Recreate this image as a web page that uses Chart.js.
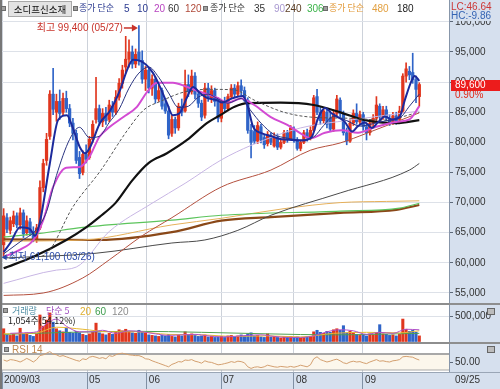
<!DOCTYPE html>
<html>
<head>
<meta charset="utf-8">
<script src="https://cdn.jsdelivr.net/npm/chart.js@4.4.0/dist/chart.umd.min.js"></script>
<style>
body{margin:0;background:#fff;}
#wrap{position:relative;width:500px;height:389px;overflow:hidden;background:#fff;font-family:"Liberation Sans","Noto Sans CJK KR",sans-serif;}
canvas{position:absolute;left:0;}
.side{position:absolute;left:449px;top:0;width:51px;height:389px;background:#d6e0ee;}
.strip{position:absolute;left:0;top:372px;width:500px;height:17px;background:#d6e0ee;}
.hl{position:absolute;left:0;width:500px;background:#8e8e8e;}
.t{position:absolute;white-space:nowrap;font-size:10px;line-height:12px;}
.k{font-family:"Noto Sans CJK KR",sans-serif;font-size:9px;}
.sq{position:absolute;width:3px;height:3px;background:#a0a0a0;border:1px solid #6c6c6c;}
.name{position:absolute;left:8px;top:1px;width:62px;height:14px;background:#e3e3e3;border:1px solid #a9a9a9;font:9.5px/14px "Noto Sans CJK KR",sans-serif;color:#111;text-align:center;}
.ico{position:absolute;left:487px;width:6px;height:5px;background:#bcbcbc;border:1px solid #666;}
</style>
</head>
<body>
<div id="wrap">
  <div class="side"></div>
  <div class="strip"></div>
  <canvas id="price" width="500" height="303" style="top:0"></canvas>
  <canvas id="volume" width="500" height="37" style="top:305px"></canvas>
  <canvas id="rsi" width="500" height="45" style="top:344px"></canvas>
  <div class="hl" style="top:303px;height:2px"></div>
  <div class="hl" style="top:342px;height:2px"></div>
  <div class="hl" style="top:372px;height:1px;background:#9aa6b6"></div>
  <div style="position:absolute;left:0;top:0;width:2px;height:389px;background:#777"></div>

  <div class="sq" style="left:1px;top:6px"></div>
  <div class="name">소디프신소재</div>
  <div class="sq" style="left:73px;top:6px"></div>
  <span class="t k" style="left:79px;top:2px;color:#2b3a90">종가 단순</span>
  <span class="t" style="left:124px;top:3px;color:#2b3a90">5</span>
  <span class="t" style="left:137px;top:3px;color:#2b3a90">10</span>
  <span class="t" style="left:154px;top:3px;color:#b845c0">20</span>
  <span class="t" style="left:168px;top:3px;color:#333">60</span>
  <span class="t" style="left:185px;top:3px;color:#b04a3a">120</span>
  <div class="sq" style="left:203px;top:6px"></div>
  <span class="t k" style="left:210px;top:2px;color:#333">종가 단순</span>
  <span class="t" style="left:254px;top:3px;color:#333">35</span>
  <span class="t" style="left:274px;top:3px;color:#a898d0">90</span>
  <span class="t" style="left:285px;top:3px;color:#5a3c22">240</span>
  <span class="t" style="left:307px;top:3px;color:#3cb44a">306</span>
  <div class="sq" style="left:323px;top:6px"></div>
  <span class="t k" style="left:329px;top:2px;color:#e29a3a">종가 단순</span>
  <span class="t" style="left:372px;top:3px;color:#e2a040">480</span>
  <span class="t" style="left:397px;top:3px;color:#222">180</span>

  <span class="t" style="left:451px;top:1px;color:#cc3838">LC:46.64</span>
  <span class="t" style="left:450px;top:11px;width:50px;height:10px;line-height:10px;padding-left:1px;background:#d6e0ee;color:#3464b4">HC:-9.86</span>

  <div class="sq" style="left:3px;top:308px"></div>
  <span class="t k" style="left:12px;top:305px;color:#4f8ea4">거래량</span>
  <span class="t k" style="left:46px;top:305px;color:#a050c0">단순 5</span>
  <span class="t" style="left:80px;top:306px;color:#e0b030">20</span>
  <span class="t" style="left:95px;top:306px;color:#3c9c4c">60</span>
  <span class="t" style="left:112px;top:306px;color:#8c8c8c">120</span>
  <span class="t k" style="left:8px;top:315px;color:#222">1,054주(54.12%)</span>
  <div class="ico" style="top:308px"></div>

  <div class="sq" style="left:4px;top:347px"></div>
  <span class="t" style="left:12px;top:344px;color:#c08850">RSI 14</span>
  <div class="ico" style="top:346px"></div>

  <span class="t" style="left:455px;top:374px;color:#333">09/25</span>
</div>

<script>
// daily candles, one per trading day from 03/26 to 09/25
const opens = [63000,67500,65400,66500,67800,66300,68300,65000,66800,65200,
  64000,65800,72500,77000,81000,88000,85000,86800,85000,87300,
  85600,83200,81500,77500,75000,78000,77500,80500,83800,85600,
  83400,84800,83800,86000,85000,87500,89800,92500,93800,95000,
  93000,95000,93600,90500,92000,89000,90500,87200,88600,86400,
  85200,81500,83800,82400,86000,85200,89600,88400,91000,88000,
  86500,84500,89000,87400,88600,87000,84000,86500,85600,87600,
  89000,88000,89400,88600,87000,82000,81800,80200,82600,80800,
  79800,81200,79400,80800,79200,80000,81600,80600,82200,80400,
  79000,80000,81600,80800,82000,87600,85000,83600,85000,84000,
  82200,84800,87000,84800,81600,80200,83200,84800,83400,84600,
  82600,81600,83200,84000,86000,84200,85400,84000,83400,84400,
  83800,85200,91000,91800,91600,90400,87600];
const highs = [69000,68200,67600,68600,68300,69100,68800,67800,67400,66000,
  66400,73600,77200,81500,88600,92300,88000,88700,88200,88500,
  86300,84000,82000,78500,78600,79600,81000,83600,90800,86200,
  85600,85800,87000,86800,88600,90600,92800,97600,97000,96000,
  95500,99400,95200,92600,92400,91200,90800,89500,89000,87000,
  86000,84500,84200,86500,87200,92000,91200,92000,91600,88600,
  87000,89800,89800,89400,89000,87400,87000,87500,88000,89600,
  89600,90000,90400,89200,87400,83000,82800,83400,83000,81200,
  81800,81600,81600,81400,80400,82000,82000,82800,82600,80800,
  80400,82000,82200,82600,87800,88800,85800,85800,85400,85200,
  85400,87800,87400,85200,82400,83800,85400,86400,85200,85000,
  83200,83800,84600,87600,86400,86000,86000,84600,85000,85000,
  86000,91400,93200,92600,94800,91000,89900];
const lows = [61100,65000,64800,66000,65800,65600,64200,64600,64500,63500,
  63400,65500,71800,76200,80500,84600,83500,83800,84500,85000,
  82600,80400,76500,74000,74600,76600,77200,80000,83200,82800,
  82600,83000,83400,84300,84600,87000,89000,91500,92500,92300,
  92400,92800,89800,88600,88200,87800,86500,86800,85500,84800,
  80600,81000,81500,82000,84400,85000,87600,88000,87200,85800,
  83600,84000,86800,86600,86000,83400,83400,85000,85200,87200,
  87400,87600,87800,86800,81500,77400,79800,79800,79900,79000,
  79400,79600,79200,78800,78900,79800,80000,80400,80000,78700,
  78600,79800,80200,80400,81800,84600,83000,83200,82400,81800,
  81800,84400,84200,81200,79600,80000,82800,83000,83000,82000,
  80400,81200,82600,83600,83600,83800,83600,82800,83000,83000,
  83400,85000,90000,90400,89800,86600,86000];
const closes = [67800,65600,67000,67800,66300,68300,64800,67000,65000,64000,
  65800,72500,76500,80500,88000,85500,86800,84800,87300,85600,
  83200,81500,77000,74800,78000,77200,80500,83000,85600,83400,
  84800,83600,86200,85000,87500,89800,92000,93800,95000,93000,
  94600,93600,90500,92000,89000,90500,87200,88600,86000,85200,
  81200,83800,82400,86000,85000,89600,88400,91000,88000,86500,
  84200,89000,87400,88600,86800,84000,86500,85600,87600,89000,
  88000,89400,88600,87000,82000,80000,80200,82800,80400,79600,
  81300,80000,80800,79200,80000,81600,80600,82400,80400,79000,
  80000,81600,80800,82000,87400,85000,83600,85200,83000,82200,
  84800,87200,84800,81600,80200,83200,84800,83400,84600,82600,
  81600,83200,84000,86200,84200,85400,84000,83400,84400,83600,
  85200,91000,92200,91200,90400,88800,89600];
const volumes = [250000,130000,120000,150000,110000,260000,140000,170000,120000,100000,
  150000,520000,300000,420000,560000,380000,250000,210000,190000,260000,
  180000,160000,200000,170000,140000,120000,150000,180000,360000,170000,
  150000,130000,160000,140000,180000,230000,210000,240000,190000,170000,
  160000,220000,180000,170000,130000,120000,110000,100000,120000,110000,
  140000,100000,90000,130000,110000,190000,140000,150000,120000,100000,
  110000,130000,90000,100000,80000,90000,100000,80000,110000,120000,
  90000,110000,130000,100000,150000,170000,110000,120000,90000,80000,
  150000,90000,100000,80000,70000,90000,80000,100000,80000,90000,
  70000,80000,90000,100000,190000,220000,180000,160000,200000,180000,
  230000,250000,220000,310000,170000,200000,160000,140000,120000,130000,
  110000,150000,130000,170000,330000,150000,140000,120000,130000,110000,
  140000,440000,240000,200000,220000,180000,110000];
const rsi14 = [55,52,56,55,53,50,54,59,55,50,
  56,66,68,72,76,70,68,64,66,63,
  60,57,54,52,58,56,62,64,62,59,
  61,58,66,64,68,71,72,70,68,67,
  66,66,63,58,57,53,50,47,44,41,
  38,44,47,51,50,55,54,56,52,50,
  47,53,50,49,46,43,44,46,48,51,
  49,52,51,48,38,34,37,38,36,38,
  42,40,38,37,39,38,37,39,37,39,
  42,40,38,43,58,63,56,53,50,52,
  55,57,53,48,46,50,52,50,51,48,
  46,50,53,56,52,53,51,50,53,54,
  56,63,64,63,62,58,55];

// moving averages: [day, value]
const ma5 = [[0,61800],[2,63300],[5,65900],[8,65600],[9.5,64500],[11,66800],[14,76500],[16.5,83700],
  [19.2,84500],[20.7,82800],[23.1,79200],[24.7,78200],[26.2,79200],[29.2,83200],[32.2,85200],[35.3,88700],
  [37.4,92000],[39.2,93700],[42.2,93300],[45.3,91500],[47.4,89200],[49.5,86500],[51.3,84500],[53.4,84900],
  [55.6,87500],[57.4,89200],[59.5,88200],[61.6,87400],[64.7,87000],[66.2,86600],[69.2,87300],[72.5,87700],
  [74,86000],[75.6,82600],[78.3,81500],[81.3,81000],[84.3,80500],[87.4,80400],[90.4,80300],[93.4,80900],
  [95.3,84000],[97.4,85700],[99.5,84800],[101.3,84200],[103.4,83400],[105.6,81800],[107.4,82700],[109.5,83300],
  [111.6,82400],[113.4,83300],[115.6,84300],[117.7,83800],[120.1,84300],[121.6,87000],[123.7,90300],[124.6,91000],[126,90200]];
const ma10 = [[0,61500],[5,63500],[10,65600],[13,68500],[16,74500],[20,80500],[23,82500],[26,80800],[29,81000],
  [32,83300],[35,85500],[38,89000],[41,91500],[44,92500],[47,90800],[50,88200],[53,85800],[56,86000],[59,87500],
  [62,88000],[65,87200],[68,86500],[72,87300],[75,85200],[78,83200],[82,81300],[86,80700],[90,80400],[94,80900],
  [97,82800],[100,84300],[104,83600],[108,82700],[112,83100],[116,83600],[120,84000],[123,86000],[126,88000]];
const ma20 = [[0,61000],[5,62200],[9,63800],[12,67100],[15,72600],[19,75800],[23,75900],[26,77600],[29,80900],
  [32,82500],[36.3,84200],[40.4,85900],[43.4,88300],[46.5,89900],[51.3,89900],[55.6,89200],[59.5,88400],[64.7,87400],
  [68,86600],[72,87300],[76,86200],[81,84200],[86,82900],[90,81500],[93,80700],[97.4,81600],[102.5,82000],
  [107.4,81600],[112.5,82500],[119,83400],[123,83800],[126,86000]];
const ma60 = [[10,61000],[13,61500],[21,69300],[29.5,75400],[37.5,82000],[42.5,85400],[47.5,86800],[55,88400],
  [63,88800],[70,88700],[76,87000],[85,85000],[93,84200],[105,84000],[115,83700],[126,85000]];
const ma180 = [[0,59100],[9,61000],[19,63800],[25,65900],[29,67600],[34,70000],[39,73700],[44,76600],[49.5,78200],
  [55.6,80400],[61.6,83200],[65.6,84500],[70,85900],[74,86500],[84,86600],[94,86200],[102.5,84900],[109.5,83700],
  [119,83200],[126,83700]];
const ma90 = [[0,56600],[16,58800],[22,59300],[32,65200],[45,69900],[55,73200],[66,77100],[75,79500],[90,82400],
  [105,83700],[126,85200]];
const ma120 = [[0,54600],[12,55000],[24,57500],[32,60500],[42,64500],[51,67500],[66,72600],[81,75400],[93,78700],
  [102,79900],[110,81500],[126,84900]];
const ma35 = [[0,60800],[28,61600],[51,63300],[61,63800],[71,65400],[81,67900],[102,71600],[123,75400],[126,76500]];
const ma306 = [[0,64300],[11,64900],[24,65900],[51,67100],[66,67900],[102,68600],[120,69100],[126,69900]];
const ma480 = [[0,63600],[24,63800],[51,66300],[66,67400],[85,69000],[102,70000],[116,70200],[126,70300]];
const ma240 = [[0,63900],[29,63800],[51,65100],[66,67000],[81,67600],[102,68300],[119,68800],[126,69600]];

const volMa5 = [[2,160000],[6,170000],[10,190000],[13,350000],[16,440000],[19,300000],[23,190000],[27,190000],
  [30,220000],[34,160000],[38,210000],[42,190000],[46,150000],[50,120000],[54,130000],[58,140000],[62,110000],
  [66,90000],[70,100000],[74,120000],[78,130000],[82,100000],[86,80000],[90,80000],[94,110000],[98,190000],
  [102,230000],[106,210000],[110,140000],[114,180000],[118,160000],[122,240000],[126,230000]];
const volMa20 = [[0,150000],[10,170000],[16,280000],[24,240000],[32,190000],[40,190000],[50,140000],[60,130000],
  [70,100000],[80,110000],[90,90000],[100,160000],[110,180000],[120,170000],[126,210000]];
const volMa60 = [[0,140000],[20,180000],[40,200000],[60,180000],[80,150000],[100,130000],[126,160000]];

const monthTicks = [-0.5, 25.3, 43.4, 65.9, 88.0, 108.9];
const monthLabels = ['2009/03', '05', '06', '07', '08', '09'];
const priceTicks = [55000, 60000, 65000, 70000, 75000, 80000, 85000, 90000, 95000, 100000];
const volumeTicks = [500000];
const rsiTicks = [50];
const highDate = '05/27';
const lowDate = '03/26';

const X_MIN = -0.5, X_MAX = 135;
const UP = '#e0361e', DOWN = '#2f64c8';
const FONT = 'Liberation Sans';
const candleColors = closes.map((c, i) => c >= opens[i] ? UP : DOWN);
const toPts = arr => arr.map(([x, y]) => ({ x, y }));
const fmt = v => v.toLocaleString('en-US');

function xAxis(height, withLabels) {
  return {
    type: 'linear', min: X_MIN, max: X_MAX, offset: false,
    afterBuildTicks: s => { s.ticks = monthTicks.map(v => ({ value: v })); },
    afterFit: s => { s.height = height; s.paddingLeft = 0; s.paddingRight = 0; },
    ticks: withLabels
      ? { display: true, align: 'start', labelOffset: 2, padding: -15, maxRotation: 0, autoSkip: false,
          color: '#333', font: { family: FONT, size: 10 }, callback: (v, i) => monthLabels[i] }
      : { display: false },
    grid: withLabels
      ? { color: '#cdd2da', offset: false, drawTicks: true, tickLength: 17, tickColor: '#8090a4' }
      : { color: '#cdd2da', offset: false, drawTicks: false },
    border: { display: false }
  };
}

function yAxis(min, max, ticks, label, gridColor) {
  return {
    type: 'linear', position: 'right', min, max,
    afterBuildTicks: s => { s.ticks = ticks.map(v => ({ value: v })); },
    afterFit: s => { s.width = 51; s.paddingTop = 0; s.paddingBottom = 0; },
    ticks: { color: '#333', font: { family: FONT, size: 10 }, padding: 2, callback: label },
    grid: { color: gridColor, tickLength: 4, tickColor: '#5c6878' },
    border: { display: true, color: '#8796aa' }
  };
}

function line(points, color, width, order, extra) {
  return Object.assign({
    type: 'line', data: toPts(points), borderColor: color, borderWidth: width,
    pointRadius: 0, fill: false, cubicInterpolationMode: 'monotone', order
  }, extra || {});
}

const baseOptions = {
  responsive: false, animation: false, events: [],
  layout: { padding: { left: 2, right: 0, top: 0, bottom: 0 } },
  plugins: { legend: { display: false }, tooltip: { enabled: false } }
};

// high / low notes on the price panel
const notes = {
  id: 'notes',
  afterDatasetsDraw(chart) {
    const { ctx, scales: { x, y } } = chart;
    const hi = highs.indexOf(Math.max(...highs));
    const lo = lows.indexOf(Math.min(...lows));
    ctx.save();
    ctx.font = '10px "Liberation Sans", "Noto Sans CJK KR"';
    ctx.textBaseline = 'middle';
    ctx.lineWidth = 1.5;

    const hx = x.getPixelForValue(hi), hy = y.getPixelForValue(highs[hi]) + 2.5;
    ctx.fillStyle = ctx.strokeStyle = '#c8322a';
    ctx.beginPath(); ctx.moveTo(hx - 15, hy); ctx.lineTo(hx - 5, hy); ctx.stroke();
    ctx.beginPath(); ctx.moveTo(hx - 1, hy); ctx.lineTo(hx - 7, hy - 3.5); ctx.lineTo(hx - 7, hy + 3.5); ctx.fill();
    ctx.textAlign = 'right';
    ctx.fillText('최고 ' + fmt(highs[hi]) + ' (' + highDate + ')', hx - 16, hy);

    const lx = x.getPixelForValue(lo), ly = y.getPixelForValue(lows[lo]) + 1;
    ctx.fillStyle = ctx.strokeStyle = '#2a4aa8';
    ctx.beginPath(); ctx.moveTo(lx + 4, ly); ctx.lineTo(lx, ly); ctx.stroke();
    ctx.beginPath(); ctx.moveTo(lx - 2, ly); ctx.lineTo(lx + 3, ly - 3); ctx.lineTo(lx + 3, ly + 3); ctx.fill();
    ctx.textAlign = 'left';
    ctx.fillText('최저 ' + fmt(lows[lo]) + ' (' + lowDate + ')', lx + 5, ly);
    ctx.restore();
  }
};

// last price tag on the right axis
const priceTag = {
  id: 'priceTag',
  afterDraw(chart) {
    const { ctx, scales: { y } } = chart;
    const last = closes[closes.length - 1], prev = closes[closes.length - 2];
    const py = Math.round(y.getPixelForValue(last));
    ctx.save();
    ctx.fillStyle = '#ec1c1c';
    ctx.fillRect(y.left + 2, py - 5, 49, 11);
    ctx.font = '10px "Liberation Sans"';
    ctx.textBaseline = 'middle';
    ctx.fillStyle = '#fff';
    ctx.fillText(fmt(last), y.left + 6, py + 0.5);
    ctx.fillStyle = '#e02818';
    ctx.fillText(((last - prev) / prev * 100).toFixed(2) + '%', y.left + 6, py + 10);
    ctx.restore();
  }
};

new Chart(document.getElementById('price'), {
  type: 'bar',
  data: {
    datasets: [
      line(ma5, '#1c2a9c', 2, 1),
      line(ma10, '#2a3480', 1, 2),
      line(ma20, '#d34bd3', 2, 3),
      line(ma60, '#555', 1, 4, { borderDash: [3, 2] }),
      line(ma180, '#111', 2.2, 5),
      line(ma90, '#c8b6e4', 1, 6),
      line(ma120, '#b4503e', 1, 7),
      line(ma35, '#4a4a4a', 1, 8),
      line(ma306, '#5cc45c', 1.2, 9),
      line(ma480, '#e6b05a', 1, 10),
      line(ma240, '#8a4818', 2.2, 11),
      {
        data: closes.map((c, i) => ({ x: i, y: [opens[i], c] })),
        backgroundColor: candleColors, barThickness: 2.6, grouped: false, order: 20
      },
      {
        data: highs.map((h, i) => ({ x: i, y: [lows[i], h] })),
        backgroundColor: candleColors, barThickness: 1, grouped: false, order: 21
      }
    ]
  },
  options: Object.assign({}, baseOptions, {
    scales: { x: xAxis(0, false), y: yAxis(53340, 103630, priceTicks, fmt, '#dde1e8') }
  }),
  plugins: [notes, priceTag]
});

new Chart(document.getElementById('volume'), {
  type: 'bar',
  data: {
    datasets: [
      line(volMa5, '#b050c8', 1, 1),
      line(volMa20, '#e8b830', 1, 2),
      line(volMa60, '#50a050', 1, 3),
      {
        data: volumes.map((v, i) => ({ x: i, y: v })),
        backgroundColor: candleColors, barThickness: 2.4, grouped: false, order: 10
      }
    ]
  },
  options: Object.assign({}, baseOptions, {
    scales: { x: xAxis(0, false), y: yAxis(-9800, 715700, volumeTicks, fmt, '#dde1e8') }
  })
});

const rsiBand = {
  id: 'rsiBand',
  beforeDatasetsDraw(chart) {
    const { ctx, chartArea: a, scales: { y } } = chart;
    const y70 = y.getPixelForValue(70), y30 = y.getPixelForValue(30);
    ctx.save();
    ctx.fillStyle = '#fcf7ec';
    ctx.fillRect(a.left, y70, a.right - a.left, y30 - y70);
    ctx.strokeStyle = '#a8a8a8';
    ctx.lineWidth = 2;
    ctx.beginPath(); ctx.moveTo(a.left, y70); ctx.lineTo(a.right, y70); ctx.stroke();
    ctx.lineWidth = 1;
    ctx.beginPath(); ctx.moveTo(a.left, y30); ctx.lineTo(a.right, y30); ctx.stroke();
    ctx.restore();
  }
};

new Chart(document.getElementById('rsi'), {
  type: 'line',
  data: {
    datasets: [{
      data: rsi14.map((v, i) => ({ x: i, y: v })),
      borderColor: '#d4a070', borderWidth: 1, pointRadius: 0, fill: false, tension: 0
    }]
  },
  options: Object.assign({}, baseOptions, {
    scales: { x: xAxis(17, true), y: yAxis(25, 95, rsiTicks, v => v.toFixed(2), 'rgba(0,0,0,0)') }
  }),
  plugins: [rsiBand]
});
</script>
</body>
</html>
